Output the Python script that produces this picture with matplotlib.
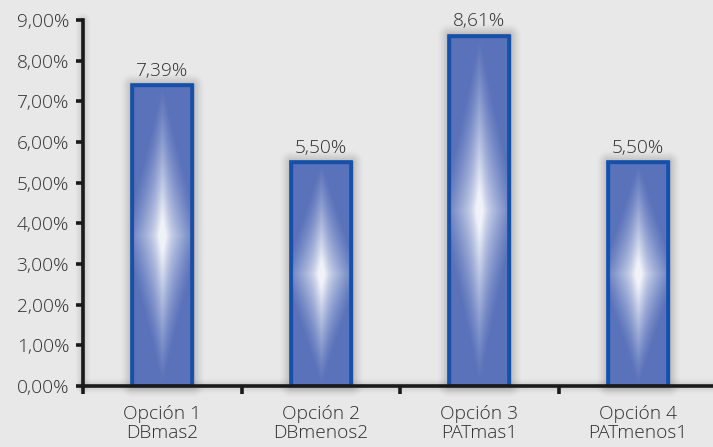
import numpy as np
import matplotlib
matplotlib.use("Agg")
import matplotlib.pyplot as plt
from matplotlib.ticker import FuncFormatter

categories = ["Opción 1\nDBmas2", "Opción 2\nDBmenos2", "Opción 3\nPATmas1", "Opción 4\nPATmenos1"]
values = [7.39, 5.50, 8.61, 5.50]
value_labels = ["7,39%", "5,50%", "8,61%", "5,50%"]
y_ticks = [0, 1, 2, 3, 4, 5, 6, 7, 8, 9]

plt.rcParams["font.family"] = ["Open Sans", "DejaVu Sans"]
plt.rcParams["font.weight"] = "light"

BG = "#e8e8e8"
BAR = np.array([90, 114, 186]) / 255.0
EDGE = "#1650a8"
TXT = "#2e2e2e"
AXC = "#1a1a1a"
FS = 13.8

fig = plt.figure(figsize=(7.13, 4.47), dpi=100, facecolor=BG)
ax_w, ax_h = 634, 366
ax = fig.add_axes([83 / 713, 61 / 447, ax_w / 713, ax_h / 447])
ax.set_facecolor(BG)
ax.set_xlim(-0.5, 3.5)
ax.set_ylim(0, 9)

bar_w = 0.38
x = np.arange(len(values))
bars = ax.bar(x, values, width=bar_w, color=BAR, edgecolor=EDGE, linewidth=2.4, zorder=3)

# pixel scale of the data units
px_x = ax_w / 4.0
px_y = ax_h / 9.0


def halo(ax, x0, x1, y0, y1, pad, alpha, z):
    """Soft grey shadow around a rectangle given in data units."""
    w_px = (x1 - x0) * px_x
    h_px = (y1 - y0) * px_y
    nx, ny = int(w_px + 2 * pad) + 2, int(h_px + 2 * pad) + 2
    gx = np.linspace(-pad, w_px + pad, nx)
    gy = np.linspace(-pad, h_px + pad, ny)
    X, Y = np.meshgrid(gx, gy)
    dx = np.maximum(np.maximum(-X, X - w_px), 0)
    dy = np.maximum(np.maximum(-Y, Y - h_px), 0)
    d = np.hypot(dx, dy)
    a = np.clip(1 - d / pad, 0, 1) ** 1.5 * alpha
    img = np.zeros((ny, nx, 4))
    img[..., :3] = 0.42
    img[..., 3] = a
    im = ax.imshow(img, extent=(x0 - pad / px_x, x1 + pad / px_x,
                                y0 - pad / px_y, y1 + pad / px_y),
                   origin="lower", aspect="auto", interpolation="bilinear", zorder=z)
    im.set_clip_on(False)
    return im


# shadows behind the bars
for xi, v in zip(x, values):
    halo(ax, xi - bar_w / 2, xi + bar_w / 2, 0, v, 13, 0.42, 2)

# shadows along the axis lines
halo(ax, -0.5, -0.5, 0, 9, 9, 0.28, 1.5)
halo(ax, -0.5, 3.5, 0, 0, 9, 0.28, 1.5)

# white glow inside each bar
for b, xi, v in zip(bars, x, values):
    nx, ny = 160, 500
    u = np.linspace(-1, 1, nx)
    t = np.linspace(-1, 1, ny)
    U, T = np.meshgrid(u, t)
    s = np.abs(U) * 0.78 + np.abs(T)
    g = np.clip(1 - s, 0, 1) ** 1.25
    streak = np.exp(-(U / 0.18) ** 2) * np.clip(1 - np.abs(T), 0, 1) ** 1.2 * 0.15
    g = np.clip(g + streak, 0, 1) * 0.92
    img = np.zeros((ny, nx, 4))
    img[..., :3] = 1.0
    img[..., 3] = g
    im = ax.imshow(img, extent=(xi - bar_w / 2, xi + bar_w / 2, 0, v),
                   origin="lower", aspect="auto", interpolation="bilinear", zorder=3.5)
    im.set_clip_path(b)

# bar outlines above the glow
for b in bars:
    ax.add_patch(plt.Rectangle(b.get_xy(), b.get_width(), b.get_height(), fill=False,
                               edgecolor=EDGE, linewidth=2.6, zorder=4))

for xi, v, lab in zip(x, values, value_labels):
    ax.annotate(lab, (xi, v), xytext=(0, 4), textcoords="offset points",
                ha="center", va="bottom", fontsize=FS, color=TXT, zorder=5)

for s in ["top", "right"]:
    ax.spines[s].set_visible(False)
for s in ["left", "bottom"]:
    ax.spines[s].set_linewidth(2.6)
    ax.spines[s].set_color(AXC)
    ax.spines[s].set_zorder(6)

ax.set_yticks(y_ticks)
ax.yaxis.set_major_formatter(FuncFormatter(lambda v, p: f"{v:.2f}%".replace(".", ",")))
ax.tick_params(axis="y", length=5, width=2.6, color=AXC, labelsize=FS,
               labelcolor=TXT, pad=5)

ax.set_xticks(np.arange(-0.5, 4.0, 1.0))
ax.set_xticklabels([])
ax.set_xticks(x, minor=True)
ax.set_xticklabels(categories, minor=True, fontsize=FS, color=TXT, linespacing=1.05)
ax.tick_params(axis="x", which="minor", length=0, pad=14)
ax.tick_params(axis="x", which="major", length=6, width=2.6, color=AXC, direction="out")

fig.savefig("out.png", dpi=100, facecolor=BG)
